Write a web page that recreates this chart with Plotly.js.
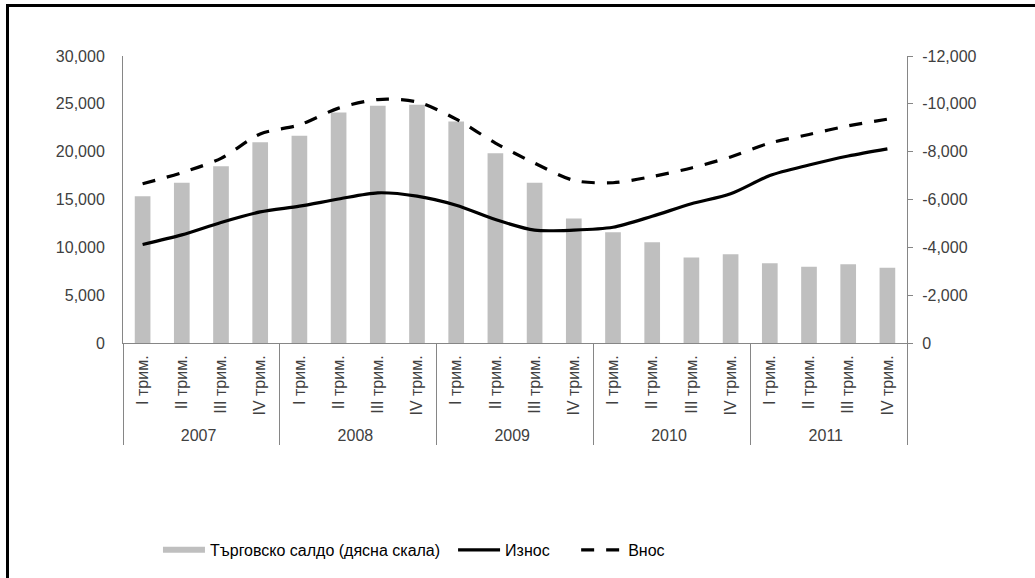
<!DOCTYPE html>
<html>
<head>
<meta charset="utf-8">
<script src="https://cdn.plot.ly/plotly-3.0.1.min.js"></script>
<style>
html,body{margin:0;padding:0;background:#fff;overflow:hidden;}
#frame{position:absolute;left:6px;top:4px;width:1100px;height:700px;border-left:3px solid #000;border-top:3px solid #000;}
#chart{position:absolute;left:0;top:0;width:1035px;height:578px;}
</style>
</head>
<body>
<div id="frame"></div>
<div id="chart"></div>
<script>
const years = ['2007','2007','2007','2007','2008','2008','2008','2008','2009','2009','2009','2009','2010','2010','2010','2010','2011','2011','2011','2011'];
const quarters = ['I трим.','II трим.','III трим.','IV трим.','I трим.','II трим.','III трим.','IV трим.','I трим.','II трим.','III трим.','IV трим.','I трим.','II трим.','III трим.','IV трим.','I трим.','II трим.','III трим.','IV трим.'];
const balance = [-6140,-6700,-7390,-8390,-8670,-9640,-9920,-9960,-9260,-7930,-6700,-5210,-4630,-4210,-3570,-3710,-3330,-3190,-3290,-3150];
const exports = [10300,11300,12600,13700,14300,15050,15700,15350,14400,12900,11800,11800,12100,13250,14550,15600,17500,18600,19550,20300];
const imports = [16650,17800,19300,21850,22800,24550,25450,25200,23400,20900,18800,17000,16750,17400,18300,19450,20900,21800,22700,23400];
const rightTickVals = [0,-2000,-4000,-6000,-8000,-10000,-12000];
const rightTickText = ['0','-2,000','-4,000','-6,000','-8,000','-10,000','-12,000'];
const leftTickVals = [0,5000,10000,15000,20000,25000,30000];
const leftTickText = ['0','5,000','10,000','15,000','20,000','25,000','30,000'];

const xcat = [years, quarters];
const FAM = '"Liberation Sans", Arial, sans-serif';
const fnt = {family:FAM, size:16, color:'#404040'};
const legFont = {family:FAM, size:16, color:'#000'};

const data = [
  {type:'bar', x:xcat, y:balance, name:'Търговско салдо (дясна скала)', marker:{color:'#BFBFBF'}, yaxis:'y', showlegend:false},
  {type:'scatter', mode:'lines', x:[null], y:[null], name:'Търговско салдо (дясна скала)', line:{color:'#BFBFBF', width:6}, yaxis:'y', legend:'legend'},
  {type:'scatter', mode:'lines', x:xcat, y:exports, name:'Износ', line:{color:'#000', width:3.2, shape:'spline', smoothing:0.8}, yaxis:'y2', legend:'legend2'},
  {type:'scatter', mode:'lines', x:xcat, y:imports, name:'Внос', line:{color:'#000', width:3.2, shape:'spline', smoothing:0.8, dash:'13px,12px'}, yaxis:'y2', legend:'legend3'}
];

function leg(x){
  return {orientation:'h', x:x, xanchor:'left', y:-0.715, yanchor:'middle', font:legFont, itemwidth:42, bgcolor:'rgba(0,0,0,0)'};
}

const layout = {
  width:1035, height:578,
  margin:{l:123, r:128, t:56, b:234},
  paper_bgcolor:'rgba(0,0,0,0)', plot_bgcolor:'rgba(0,0,0,0)',
  font:fnt,
  bargap:0.6,
  showlegend:true,
  legend:leg(0.0446),
  legend2:leg(0.421),
  legend3:leg(0.578),
  xaxis:{type:'multicategory', tickangle:-90, showline:true, linecolor:'#868686', linewidth:1, ticks:'', showdividers:true, dividercolor:'#868686', dividerwidth:1, tickfont:fnt, showgrid:false, range:[-0.5,19.5], ticklabelstandoff:5},
  yaxis:{side:'right', range:[0,-12000], tickvals:rightTickVals, ticktext:rightTickText, showgrid:false, zeroline:false, showline:true, linecolor:'#868686', ticks:'outside', ticklen:5, tickcolor:'#868686', tickfont:fnt, ticklabelstandoff:6},
  yaxis2:{overlaying:'y', side:'left', range:[0,30000], tickvals:leftTickVals, ticktext:leftTickText, showgrid:false, zeroline:false, showline:true, linecolor:'#868686', ticks:'', tickfont:fnt, ticklabelstandoff:14}
};

Plotly.newPlot('chart', data, layout, {displayModeBar:false, staticPlot:true});
</script>
</body>
</html>
